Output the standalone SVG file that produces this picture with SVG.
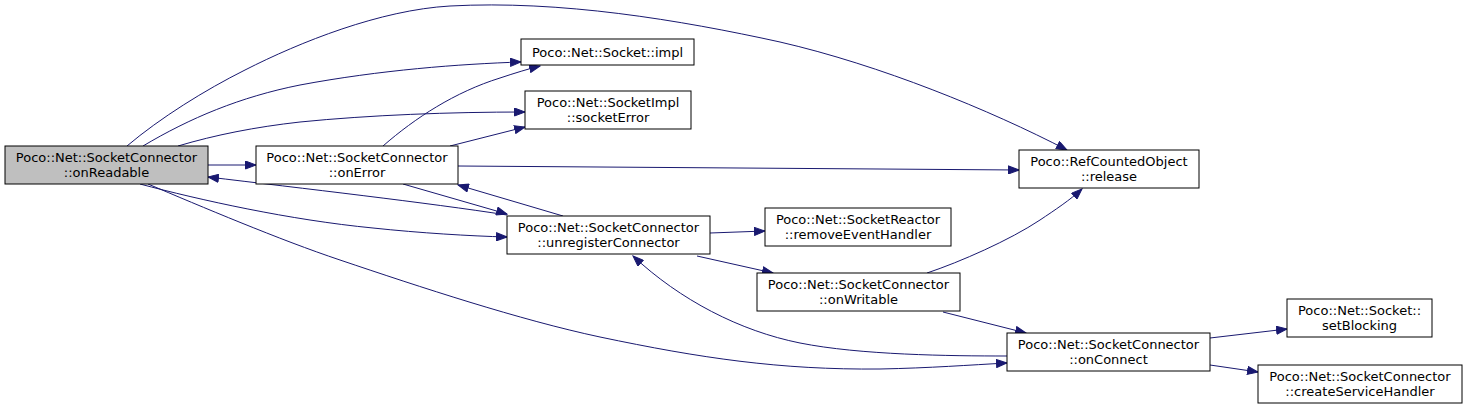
<svg xmlns="http://www.w3.org/2000/svg" width="1467" height="410" viewBox="0 0 1467 410">
<style>
.nd{fill:#ffffff;stroke:#000000;stroke-width:1}
.cur{fill:#bfbfbf;stroke:#000000;stroke-width:1}
.tx{font-family:"DejaVu Sans","Liberation Sans",sans-serif;font-size:13px;fill:#000000;text-anchor:middle}
.ed{fill:none;stroke:#191970;stroke-width:1;marker-end:url(#arr)}
</style>
<defs>
<marker id="arr" markerUnits="userSpaceOnUse" markerWidth="12" markerHeight="9" refX="11" refY="4.5" orient="auto">
<path d="M0.5,0.5 L11,4.5 L0.5,8.5 z" fill="#191970" stroke="#191970" stroke-width="1"/>
</marker>
</defs>
<rect width="1467" height="410" fill="#ffffff"/>
<g id="connectors">
<path class="ed" d="M208,165 L256,165"/>
<path class="ed" d="M127,146 C160,118 205,90 245,70 C300,42 380,10 450,6 C560,0 680,20 780,42 C880,65 990,110 1067,150"/>
<path class="ed" d="M143,146 C190,118 240,97 300,85 C380,70 460,64 521,62"/>
<path class="ed" d="M178,146 C215,135 255,127 300,122 C370,115 450,112 525,112"/>
<path class="ed" d="M383,146 C415,118 455,92 500,78 C515,73 528,69 540,66"/>
<path class="ed" d="M450,146 L525,127"/>
<path class="ed" d="M458,166 L1019,170"/>
<path class="ed" d="M403,184 L507,214"/>
<path class="ed" d="M563,216 L458,185"/>
<path class="ed" d="M507,215 C430,203 300,188 208,177"/>
<path class="ed" d="M140,184 C200,200 290,220 373,228 C420,233 470,236 507,237"/>
<path class="ed" d="M148,184 C200,206 280,240 340,260 C420,287 520,320 600,337 C700,358 780,370 880,369 C930,368 970,365 1007,363"/>
<path class="ed" d="M1007,356 C950,356 860,355 800,343 C740,331 680,300 633,256"/>
<path class="ed" d="M710,233 L765,231"/>
<path class="ed" d="M697,256 L773,273"/>
<path class="ed" d="M927,273 C960,262 1010,240 1040,220 C1055,210 1070,200 1082,189"/>
<path class="ed" d="M943,312 L1026,333"/>
<path class="ed" d="M1210,338 L1287,329"/>
<path class="ed" d="M1210,365 L1258,372"/>
</g>
<g id="onReadable">
<rect class="cur" x="5" y="146" width="203" height="38"/>
<text class="tx" x="106.5" y="162">Poco::Net::SocketConnector</text>
<text class="tx" x="106.5" y="177">::onReadable</text>
</g>
<g id="onError">
<rect class="nd" x="256" y="146" width="202" height="38"/>
<text class="tx" x="357" y="162">Poco::Net::SocketConnector</text>
<text class="tx" x="357" y="177">::onError</text>
</g>
<g id="socketImpl">
<rect class="nd" x="521" y="39" width="173" height="26"/>
<text class="tx" x="607.5" y="57">Poco::Net::Socket::impl</text>
</g>
<g id="socketError">
<rect class="nd" x="525" y="91" width="166" height="38"/>
<text class="tx" x="608" y="107">Poco::Net::SocketImpl</text>
<text class="tx" x="608" y="122">::socketError</text>
</g>
<g id="unregisterConnector">
<rect class="nd" x="507" y="216" width="203" height="38"/>
<text class="tx" x="608.5" y="232">Poco::Net::SocketConnector</text>
<text class="tx" x="608.5" y="247">::unregisterConnector</text>
</g>
<g id="removeEventHandler">
<rect class="nd" x="765" y="208" width="186" height="38"/>
<text class="tx" x="858" y="224">Poco::Net::SocketReactor</text>
<text class="tx" x="858" y="239">::removeEventHandler</text>
</g>
<g id="onWritable">
<rect class="nd" x="757" y="273" width="203" height="38"/>
<text class="tx" x="858.5" y="289">Poco::Net::SocketConnector</text>
<text class="tx" x="858.5" y="304">::onWritable</text>
</g>
<g id="release">
<rect class="nd" x="1019" y="150" width="180" height="38"/>
<text class="tx" x="1109" y="166">Poco::RefCountedObject</text>
<text class="tx" x="1109" y="181">::release</text>
</g>
<g id="onConnect">
<rect class="nd" x="1007" y="333" width="203" height="38"/>
<text class="tx" x="1108.5" y="349">Poco::Net::SocketConnector</text>
<text class="tx" x="1108.5" y="364">::onConnect</text>
</g>
<g id="setBlocking">
<rect class="nd" x="1287" y="299" width="145" height="38"/>
<text class="tx" x="1359.5" y="315">Poco::Net::Socket::</text>
<text class="tx" x="1359.5" y="330">setBlocking</text>
</g>
<g id="createServiceHandler">
<rect class="nd" x="1258" y="365" width="204" height="38"/>
<text class="tx" x="1360" y="381">Poco::Net::SocketConnector</text>
<text class="tx" x="1360" y="396">::createServiceHandler</text>
</g>
</svg>
